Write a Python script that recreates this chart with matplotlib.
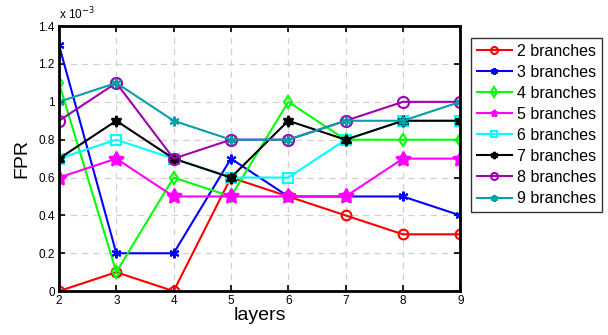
import matplotlib
matplotlib.use("Agg")
import matplotlib.pyplot as plt

layers = [2, 3, 4, 5, 6, 7, 8, 9]
labels = ["2 branches", "3 branches", "4 branches", "5 branches",
          "6 branches", "7 branches", "8 branches", "9 branches"]
b2 = [0.0, 0.1, 0.0, 0.6, 0.5, 0.4, 0.3, 0.3]
b3 = [1.3, 0.2, 0.2, 0.7, 0.5, 0.5, 0.5, 0.4]
b4 = [1.1, 0.1, 0.6, 0.5, 1.0, 0.8, 0.8, 0.8]
b5 = [0.6, 0.7, 0.5, 0.5, 0.5, 0.5, 0.7, 0.7]
b6 = [0.7, 0.8, 0.7, 0.6, 0.6, 0.8, 0.9, 0.9]
b7 = [0.7, 0.9, 0.7, 0.6, 0.9, 0.8, 0.9, 0.9]
b8 = [0.9, 1.1, 0.7, 0.8, 0.8, 0.9, 1.0, 1.0]
b9 = [1.0, 1.1, 0.9, 0.8, 0.8, 0.9, 0.9, 1.0]
series = [b2, b3, b4, b5, b6, b7, b8, b9]
yticks = [0, 0.2, 0.4, 0.6, 0.8, 1.0, 1.2, 1.4]
ytick_labels = ["0", "0.2", "0.4", "0.6", "0.8", "1", "1.2", "1.4"]

colors = ["#ff0000", "#0000ff", "#00ff00", "#ff00ff", "#00ffff", "#000000", "#a000b0", "#00a0a8"]
markers = ["o", (6, 2, 0), "d", (5, 1, 0), "s", (6, 1, 0), "o", (6, 2, 0)]
msizes = [7, 7, 6, 11, 6.5, 8, 8, 7]
filled = [False, True, False, True, False, True, False, True]

plt.rcParams['font.family'] = ['Liberation Sans', 'DejaVu Sans']

fig = plt.figure(figsize=(6.08, 3.35), dpi=100)
ax = fig.add_axes([0.097, 0.131, 0.660, 0.791])

for vals, lab, c, m, ms, f in zip(series, labels, colors, markers, msizes, filled):
    ax.plot(layers, vals, color=c, marker=m, markersize=ms,
            markerfacecolor=c if f else 'none',
            markeredgecolor=c, markeredgewidth=1.5, linewidth=1.5, label=lab)

ax.set_xlim(2, 9)
ax.set_ylim(0, 1.4)
ax.set_xticks(layers)
ax.set_yticks(yticks)
ax.set_yticklabels(ytick_labels)
ax.tick_params(direction='in', top=True, right=True, labelsize=8.5, width=1.2, length=4, pad=3)
ax.grid(True, linestyle=(0, (5, 4)), color='#d0d0d0', linewidth=0.9)
for s in ax.spines.values():
    s.set_linewidth(2)
ax.set_xlabel("layers", fontsize=14, labelpad=0)
ax.set_ylabel("FPR", fontsize=14, labelpad=6)
ax.text(0.0, 1.015, r"x 10$^{-3}$", transform=ax.transAxes, fontsize=8.5, ha='left', va='bottom')

leg = ax.legend(loc='upper left', bbox_to_anchor=(1.027, 0.955), fontsize=11.5,
                frameon=True, fancybox=False, edgecolor='black', handlelength=2.2,
                borderpad=0.35, labelspacing=0.38, handletextpad=0.35, borderaxespad=0)
leg.get_frame().set_linewidth(1.0)
for h in leg.legend_handles:
    h.set_markersize(5)

fig.savefig("out.png", dpi=100)
